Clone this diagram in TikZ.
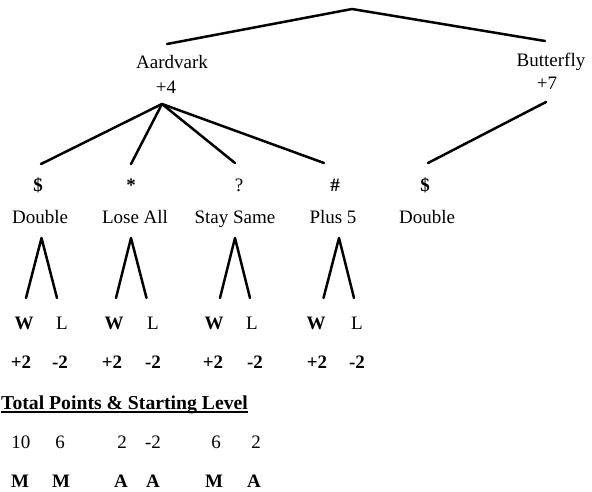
\documentclass[tikz,border=0pt]{standalone}
\usepackage{fontspec}
\setmainfont{Liberation Serif}
\begin{document}
\begin{tikzpicture}[x=1pt,y=-1pt,
  txt/.style={inner sep=0pt, text height=12.6pt, text depth=0pt,
              font=\fontsize{19}{22}\selectfont},
  btxt/.style={txt, font=\fontsize{19}{22}\selectfont\bfseries},
  branch/.style={line width=2.5pt, line cap=round, line join=round},
]
\fill[white] (0,0) rectangle (592,491);
\useasboundingbox (0,0) rectangle (592,491);

% first level
\node[txt] (aard) at (172,62) {Aardvark};
\node[txt] (aardpts) at (166,87) {+4};
\node[txt] (butt) at (551,60) {Butterfly};
\node[txt] (buttpts) at (547,83) {+7};

% second level: symbols and actions
\node[btxt] (s1) at (38,185) {\$};
\node[btxt] (s2) at (131,185) {*};
\node[txt]  (s3) at (239,185) {?};
\node[btxt] (s4) at (335,185) {\#};
\node[btxt] (s5) at (425,185) {\$};
\node[txt] (a1) at (40,217) {Double};
\node[txt] (a2) at (135,217) {Lose All};
\node[txt] (a3) at (235,217) {Stay Same};
\node[txt] (a4) at (333,217) {Plus 5};
\node[txt] (a5) at (427,217) {Double};

% win / lose outcomes
\foreach \i/\xw/\xl in {1/24/62, 2/114/153, 3/214/252, 4/316/357} {
  \node[btxt] (w\i) at (\xw,323) {W};
  \node[txt]  (l\i) at (\xl,323) {L};
}
\foreach \i/\xw/\xl in {1/21/60, 2/112/153, 3/213/255, 4/317/357} {
  \node[btxt] (pw\i) at (\xw,362) {+2};
  \node[btxt] (pl\i) at (\xl,362) {-2};
}

% totals
\node[btxt, anchor=west, font=\fontsize{19.7}{22}\selectfont\bfseries]
  (total) at (1,403) {Total Points \& Starting Level};
\draw[line width=1.6pt] ([yshift=-2.5pt]total.south west) -- ([yshift=-2.5pt]total.south east);
\foreach \n/\x/\t in {t1/21/10, t2/60/6, t3/122/2, t4/153/-2, t5/216/6, t6/256/2} {
  \node[txt] (\n) at (\x,442) {\t};
}
\foreach \n/\x/\t in {m1/20/M, m2/61/M, m3/121/A, m4/153/A, m5/214/M, m6/254/A} {
  \node[btxt] (\n) at (\x,481) {\t};
}

% branch points
\coordinate (root) at (352,9);
\coordinate (aardin) at (167,44);
\coordinate (buttin) at (545,41);
\coordinate (aardout) at (162,104);
\coordinate (buttout) at (546,102);
\coordinate (s1in) at (41,164);
\coordinate (s2in) at (131,164);
\coordinate (s3in) at (235,163);
\coordinate (s4in) at (324,163);
\coordinate (s5in) at (428,163);
\foreach \i/\xa/\xw/\xl in {1/41.5/26/57, 2/131/116/146.5, 3/235/220/250, 4/339/323.5/354} {
  \coordinate (a\i out) at (\xa,238);
  \coordinate (w\i in) at (\xw,298);
  \coordinate (l\i in) at (\xl,298);
}

% branches
\draw[branch] (aardin) -- (root) -- (buttin);
\foreach \s in {s1in, s2in, s3in, s4in} \draw[branch] (aardout) -- (\s);
\draw[branch] (buttout) -- (s5in);
\foreach \i in {1,2,3,4} \draw[branch] (w\i in) -- (a\i out) -- (l\i in);
\end{tikzpicture}
\end{document}
